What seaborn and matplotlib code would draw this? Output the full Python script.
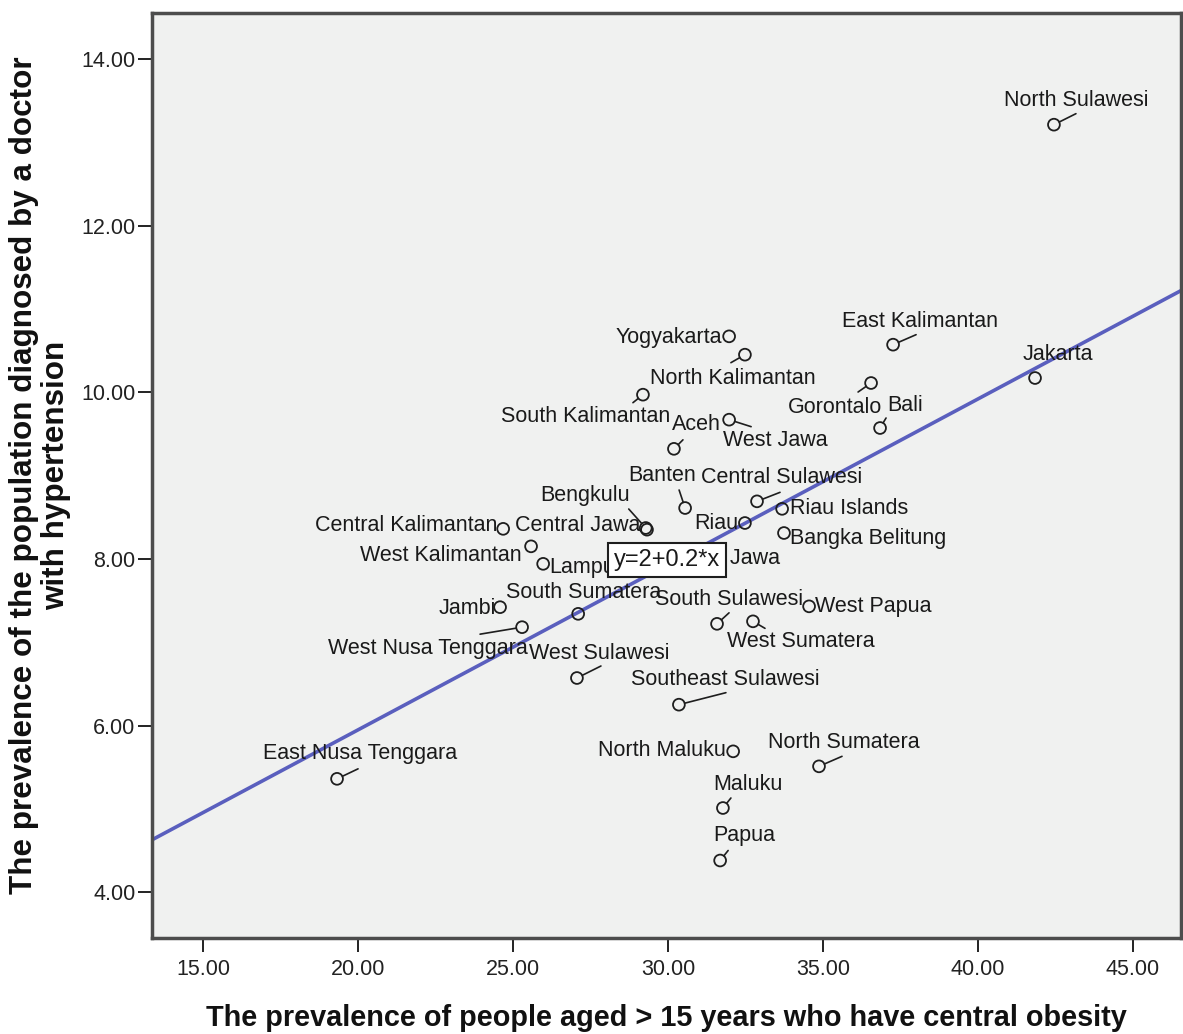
import numpy as np
import pandas as pd
import seaborn as sns
import matplotlib.pyplot as plt

# ---------------- data ----------------
provinces = [
    "North Sulawesi", "East Kalimantan", "Jakarta", "Gorontalo", "Bali",
    "Yogyakarta", "North Kalimantan", "South Kalimantan", "Aceh", "West Jawa",
    "Banten", "Central Sulawesi", "Riau Islands", "Riau", "Bangka Belitung",
    "Bengkulu", "Central Jawa", "Central Kalimantan", "West Kalimantan", "Lampung",
    "East Jawa", "South Sumatera", "Jambi", "West Nusa Tenggara", "West Sulawesi",
    "South Sulawesi", "West Sumatera", "West Papua", "Southeast Sulawesi", "North Maluku",
    "North Sumatera", "Maluku", "Papua", "East Nusa Tenggara",
]
central_obesity = [
    42.45, 37.26, 41.84, 36.55, 36.84,
    31.97, 32.48, 29.19, 30.19, 31.97,
    30.55, 32.87, 33.68, 32.48, 33.74,
    29.28, 29.32, 24.68, 25.58, 25.97,
    30.39, 27.10, 24.58, 25.29, 27.06,
    31.58, 32.74, 34.55, 30.35, 32.10,
    34.87, 31.77, 31.68, 19.32,
]
hypertension = [
    13.21, 10.57, 10.17, 10.11, 9.57,
    10.67, 10.45, 9.97, 9.32, 9.67,
    8.61, 8.69, 8.60, 8.43, 8.31,
    8.37, 8.35, 8.36, 8.15, 7.94,
    8.00, 7.34, 7.42, 7.18, 6.57,
    7.22, 7.25, 7.43, 6.25, 5.69,
    5.51, 5.01, 4.38, 5.36,
]
x_ticks = [15, 20, 25, 30, 35, 40, 45]
y_ticks = [4, 6, 8, 10, 12, 14]
equation_text = "y=2+0.2*x"
x_title = "The prevalence of people aged > 15 years who have central obesity"
y_title = "The prevalence of the population diagnosed by a doctor\nwith hypertension"

df = pd.DataFrame({"province": provinces, "obesity": central_obesity,
                   "hypertension": hypertension})

# ---------------- label layout (pixel offsets from the point) ----------------
# name: (dx, dy, ha, leader_end or None)
label_layout = {
    "North Sulawesi": (-50, 24, "left", (22, 11)),
    "East Kalimantan": (-51, 23, "left", (23, 10)),
    "Jakarta": (-12, 24, "left", None),
    "Gorontalo": (-83, -24, "left", (-13, -9)),
    "Bali": (7, 23, "left", (6, 10)),
    "Yogyakarta": (-7, -1, "right", None),
    "North Kalimantan": (-95, -24, "left", (-14, -8)),
    "South Kalimantan": (27, -22, "right", (-10, -8)),
    "Aceh": (-2, 24, "left", (9, 9)),
    "West Jawa": (-6, -21, "left", (22, -7)),
    "Banten": (-57, 33, "left", (-6, 18)),
    "Central Sulawesi": (-56, 24, "left", (23, 9)),
    "Riau Islands": (8, 0, "left", None),
    "Riau": (-7, 0, "right", None),
    "Bangka Belitung": (6, -5, "left", None),
    "Bengkulu": (-105, 33, "left", (-17, 19)),
    "Central Jawa": (-7, 4, "right", None),
    "Central Kalimantan": (-6, 3, "right", None),
    "West Kalimantan": (-9, -9, "right", None),
    "Lampung": (6, -4, "left", None),
    "East Jawa": (1, 0, "left", None),
    "South Sumatera": (-72, 21, "left", None),
    "Jambi": (-4, -1, "right", None),
    "West Nusa Tenggara": (-194, -21, "left", (-42, -7)),
    "West Sulawesi": (-48, 25, "left", (24, 12)),
    "South Sulawesi": (-62, 24, "left", (12, 11)),
    "West Sumatera": (-26, -20, "left", (12, -7)),
    "West Papua": (6, 0, "left", None),
    "Southeast Sulawesi": (-48, 25, "left", (47, 12)),
    "North Maluku": (-7, 1, "right", None),
    "North Sumatera": (-51, 24, "left", (23, 10)),
    "Maluku": (-10, 24, "left", (8, 10)),
    "Papua": (-7, 25, "left", (8, 10)),
    "East Nusa Tenggara": (-74, 25, "left", (21, 10)),
}

# ---------------- style ----------------
sns.set_theme(style="white")
plt.rcParams["font.family"] = ["Liberation Sans", "DejaVu Sans"]

fig = plt.figure(figsize=(11.83, 10.34), dpi=100)
fig.patch.set_facecolor("white")
ax = fig.add_axes([0.12849, 0.09284, 0.86983, 0.89458])
ax.set_facecolor("#F0F1F0")
ax.set_xlim(13.35, 46.55)
ax.set_ylim(3.45, 14.55)

sns.regplot(data=df, x="obesity", y="hypertension", ax=ax, scatter=False,
            ci=None, truncate=False,
            line_kws=dict(color="#5A5FBE", lw=2.6, zorder=2))
ax.set_xlim(13.35, 46.55)
ax.set_ylim(3.45, 14.55)

sns.scatterplot(data=df, x="obesity", y="hypertension", ax=ax, marker="o",
                s=72, facecolors="none", edgecolors="#1e1e1e", linewidths=1.3,
                zorder=4)

for name, xv, yv in zip(provinces, central_obesity, hypertension):
    dx, dy, ha, leader = label_layout[name]
    if leader is not None:
        ax.annotate("", xy=(xv, yv), xytext=leader, textcoords="offset pixels",
                    arrowprops=dict(arrowstyle="-", color="#1e1e1e", lw=1.2,
                                    shrinkA=0, shrinkB=4.3), zorder=3)
    ax.annotate(name, xy=(xv, yv), xytext=(dx, dy), textcoords="offset pixels",
                ha=ha, va="center", fontsize=15.5, color="#1a1a1a", zorder=5)

ax.text(0.5005, 0.4086, equation_text, transform=ax.transAxes, ha="center",
        va="center", fontsize=17, color="#1a1a1a", zorder=6,
        bbox=dict(boxstyle="square,pad=0.24", fc="white", ec="#1e1e1e", lw=1.5))

ax.set_xticks(x_ticks)
ax.set_yticks(y_ticks)
ax.set_xticklabels([f"{v:.2f}" for v in x_ticks], fontsize=15.5,
                   color="#222222")
ax.set_yticklabels([f"{v:.2f}" for v in y_ticks], fontsize=15.5,
                   color="#222222")
ax.tick_params(axis="both", direction="out", length=10, width=1.4,
               color="#222222", bottom=True, left=True)
ax.tick_params(axis="x", pad=5)
ax.tick_params(axis="y", pad=2)

for sp in ax.spines.values():
    sp.set_color("#4d4d4d")
    sp.set_linewidth(2.5)
    sp.set_visible(True)

ax.set_xlabel(x_title, fontsize=20.8, fontweight="bold", color="#111111")
ax.xaxis.label.set_va("center")
ax.xaxis.set_label_coords(0.5, -0.0865)
ax.set_ylabel(y_title, fontsize=22.6, fontweight="bold", color="#111111",
              multialignment="center", linespacing=1.05)
ax.yaxis.label.set_va("center")
ax.yaxis.set_label_coords(-0.1088, 0.5)

fig.savefig("out.png", dpi=100, facecolor="white")
